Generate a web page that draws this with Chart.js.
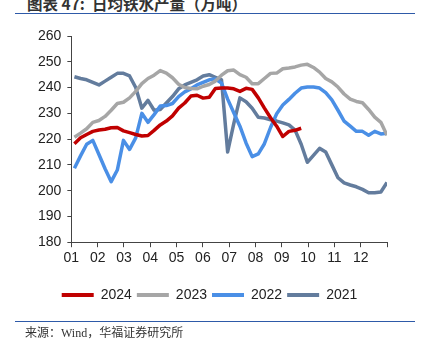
<!DOCTYPE html>
<html>
<head>
<meta charset="utf-8">
<script src="https://cdn.jsdelivr.net/npm/chart.js@4.4.1/dist/chart.umd.min.js"></script>
<style>
  body { margin: 0; background: #fff; width: 428px; height: 350px; overflow: hidden; position: relative; }
  #title { position: absolute; left: 27px; top: -8px; font: bold 15.5px "Noto Sans CJK SC", sans-serif; color: #333; white-space: pre; }
  .rule { position: absolute; left: 15px; width: 400px; height: 0; border-top: 1.5px solid #2e5aa8; }
  #src { position: absolute; left: 25px; top: 323px; font: 12px "Liberation Serif", "Noto Sans CJK SC", serif; color: #333; }
  #wrap { position: absolute; left: 0; top: 0; width: 428px; height: 350px; }
</style>
</head>
<body>
<div id="title">图表 47:  日均铁水产量（万吨）</div>
<div class="rule" style="top:13px"></div>
<div id="wrap"><canvas id="myChart"></canvas></div>
<div class="rule" style="top:321px"></div>
<div id="src">来源：Wind，华福证券研究所</div>
<script>
// month tick labels (last tick has no label)
let monthLabels = ["01","02","03","04","05","06","07","08","09","10","11","12",""];

// weekly average hot metal output, 10k tonnes
let y2024 = [218.2,220.5,221.8,223,223.5,223.8,224.4,224.5,223.2,222.5,221.8,221.2,221.4,223.4,225.5,227,229,232,234,236.7,237,235.9,236.2,239.6,239.8,239.8,239.5,238.5,239.7,239.3,236,232,228.3,225,221,223,223.4,224.2];
let y2023 = [220.7,222.3,224,226.5,227.2,228.8,231.2,233.8,234.3,236,238.5,241.5,243.5,244.8,246.6,245.6,243.8,241.3,240,239.6,239.5,240.5,241.2,242.5,244.8,246.5,246.8,245,244,241.5,241.5,243.5,245.5,245.6,247.3,247.6,248,248.7,249,247.8,246,243.5,242.2,240.2,237.5,235.5,234.6,234.1,231.5,228.5,226.5,221.5];
let y2022 = [208.7,213.5,218,219.5,214,208.5,203.5,208,219.5,216,220.5,230,226.5,229.5,232.8,233,233.8,236.5,238.3,239.5,241,242,243,243.3,241.7,235.5,230.2,225,218.5,213.2,214.3,218.2,224.5,229.8,233.2,235.4,237.8,239.8,240.2,240.2,239.8,238,235.2,231.2,227,225,223,223,221.5,223,222,222.3];
let y2021 = [244.2,243.5,243,242,241,242.5,244,245.5,245.5,244.5,240,232,235,231.2,231.5,234,236.5,239.5,241,242,243,244.5,245,244,243,215,226,236,234.5,232,228.5,228.2,227.5,227,226.3,225.5,223.5,218,211,213.7,216.4,215,210,205,203,202.2,201.5,200.5,199.2,199.2,199.5,203.2];

let seriesNames = ["2024","2023","2022","2021"];
let seriesColors = ["#c00000","#a6a6a6","#4a8fe6","#637c9d"];
let seriesData = [y2024, y2023, y2022, y2021];

function toPoints(arr) {
  return arr.map(function (v, i) { return { x: i + 1, y: v }; });
}

let datasets = seriesNames.map(function (name, k) {
  return {
    label: name,
    data: toPoints(seriesData[k]),
    borderColor: seriesColors[k],
    backgroundColor: seriesColors[k],
    borderWidth: 3.5,
    pointRadius: 0,
    pointStyle: "line",
    tension: 0,
    borderJoinStyle: "round"
  };
});

let axisColor = "#444";
let tickFont = { family: "Liberation Sans", size: 14 };

new Chart("myChart", {
  type: "line",
  data: { datasets: datasets },
  options: {
    responsive: true,
    maintainAspectRatio: false,
    animation: false,
    layout: { padding: { top: 36, left: 32, right: 41, bottom: 38 } },
    scales: {
      x: {
        type: "linear",
        min: 0.5,
        max: 52,
        afterBuildTicks: function (scale) {
          scale.ticks = monthLabels.map(function (m, k) { return { value: 0.5 + k * 51.5 / 12 }; });
        },
        afterFit: function (scale) { scale.height += 13; },
        ticks: {
          autoSkip: false,
          maxRotation: 0,
          color: "#222",
          font: tickFont,
          padding: 3,
          callback: function (value, index) { return monthLabels[index]; }
        },
        grid: { display: true, drawOnChartArea: false, drawTicks: true, tickLength: 5, color: axisColor },
        border: { display: true, color: axisColor, width: 1 }
      },
      y: {
        min: 180,
        max: 260,
        ticks: { stepSize: 10, color: "#222", font: tickFont, padding: 6 },
        grid: { display: true, drawOnChartArea: false, drawTicks: true, tickLength: 4, color: axisColor },
        border: { display: true, color: axisColor, width: 1 }
      }
    },
    plugins: {
      legend: {
        position: "bottom",
        labels: {
          usePointStyle: true,
          pointStyleWidth: 32,
          color: "#222",
          font: { family: "Liberation Sans", size: 14 },
          padding: 5,
          generateLabels: function (chart) {
            let items = Chart.defaults.plugins.legend.labels.generateLabels(chart);
            items.forEach(function (it) { it.lineWidth = 4; it.pointStyle = "line"; });
            return items;
          }
        }
      },
      tooltip: { enabled: false }
    }
  }
});
</script>
</body>
</html>
